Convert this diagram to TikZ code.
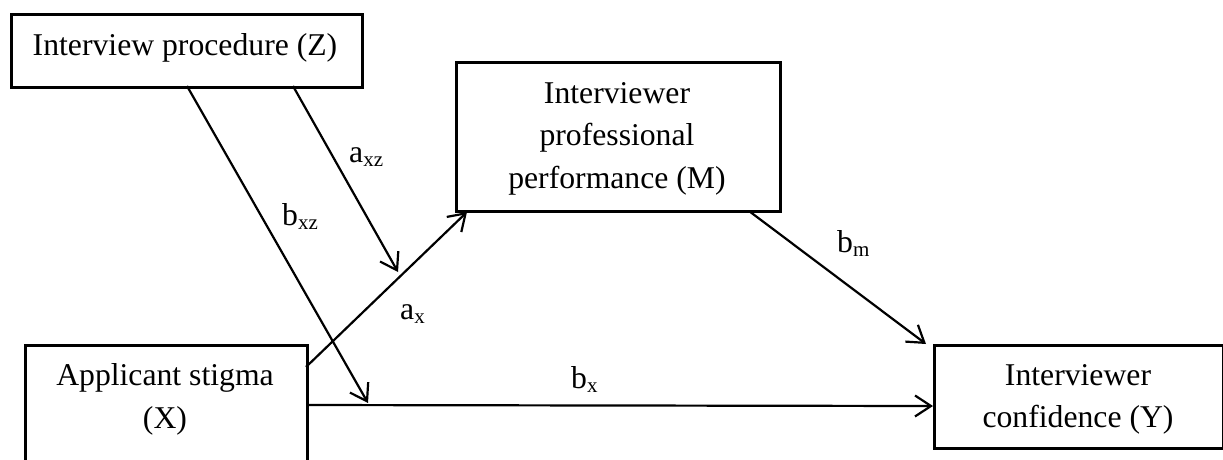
\documentclass[tikz,border=0pt]{standalone}
\usepackage{fontspec}
\setmainfont{Liberation Serif}
\usetikzlibrary{arrows.meta}

% coefficient label: letter with a lowered, smaller subscript
\newcommand\coef[2]{#1\raisebox{-4pt}{\fontsize{21}{21}\selectfont #2}}

\begin{document}
\begin{tikzpicture}[x=1pt, y=-1pt,
  box/.style={draw, line width=2.7pt, rectangle, inner sep=0pt, anchor=north west},
  txt/.style={font=\fontsize{31.7}{42}\selectfont, anchor=base, inner sep=0pt},
  lab/.style={font=\fontsize{31.7}{42}\selectfont, anchor=base west, inner sep=0pt},
  path/.style={line width=2.2pt, -{Straight Barb[length=16pt, width=21pt, line width=2.2pt]}}
]
\useasboundingbox (0,0) rectangle (1223,459);
\clip (0,0) rectangle (1223,459);

% boxes
\node[box, minimum width=351pt, minimum height=73pt] (Z) at (10,13) {};
\node[box, minimum width=324pt, minimum height=149pt] (M) at (455,61) {};
\node[box, minimum width=282pt, minimum height=150pt] (X) at (24,344) {};
\node[box, minimum width=289pt, minimum height=103pt] (Y) at (933,344) {};

% box texts
\node[txt] (Zt) at (185,55) {Interview procedure (Z)};
\node[txt] (Mt1) at (617,103) {Interviewer};
\node[txt] (Mt2) at (617,145.5) {professional};
\node[txt] (Mt3) at (617,188) {performance (M)};
\node[txt] (Xt1) at (165,385) {Applicant stigma};
\node[txt] (Xt2) at (165,428) {(X)};
\node[txt] (Yt1) at (1078,385) {Interviewer};
\node[txt] (Yt2) at (1078,427) {confidence (Y)};

% connector end points
\coordinate (zb1) at (187,86);
\coordinate (zb2) at (293,86);
\coordinate (xm0) at (306,367);
\coordinate (xy0) at (306,405);
\coordinate (mtip) at (467,212);
\coordinate (ytip) at (933,406);
\coordinate (m0) at (749,211);
\coordinate (ytop) at (926,344);
\coordinate (axzTip) at (398,272);
\coordinate (bxzTip) at (368,403);

% paths
\draw[path] (xm0) -- (mtip);
\draw[path] (xy0) -- (ytip);
\draw[path] (m0) -- (ytop);
\draw[path] (zb2) -- (axzTip);
\draw[path] (zb1) -- (bxzTip);

% coefficients
\node[lab] (axz) at (349,162) {\coef{a}{xz}};
\node[lab] (bxz) at (282,225) {\coef{b}{xz}};
\node[lab] (ax) at (400,319) {\coef{a}{x}};
\node[lab] (bm) at (837,252) {\coef{b}{m}};
\node[lab] (bx) at (571,388) {\coef{b}{x}};
\end{tikzpicture}
\end{document}
